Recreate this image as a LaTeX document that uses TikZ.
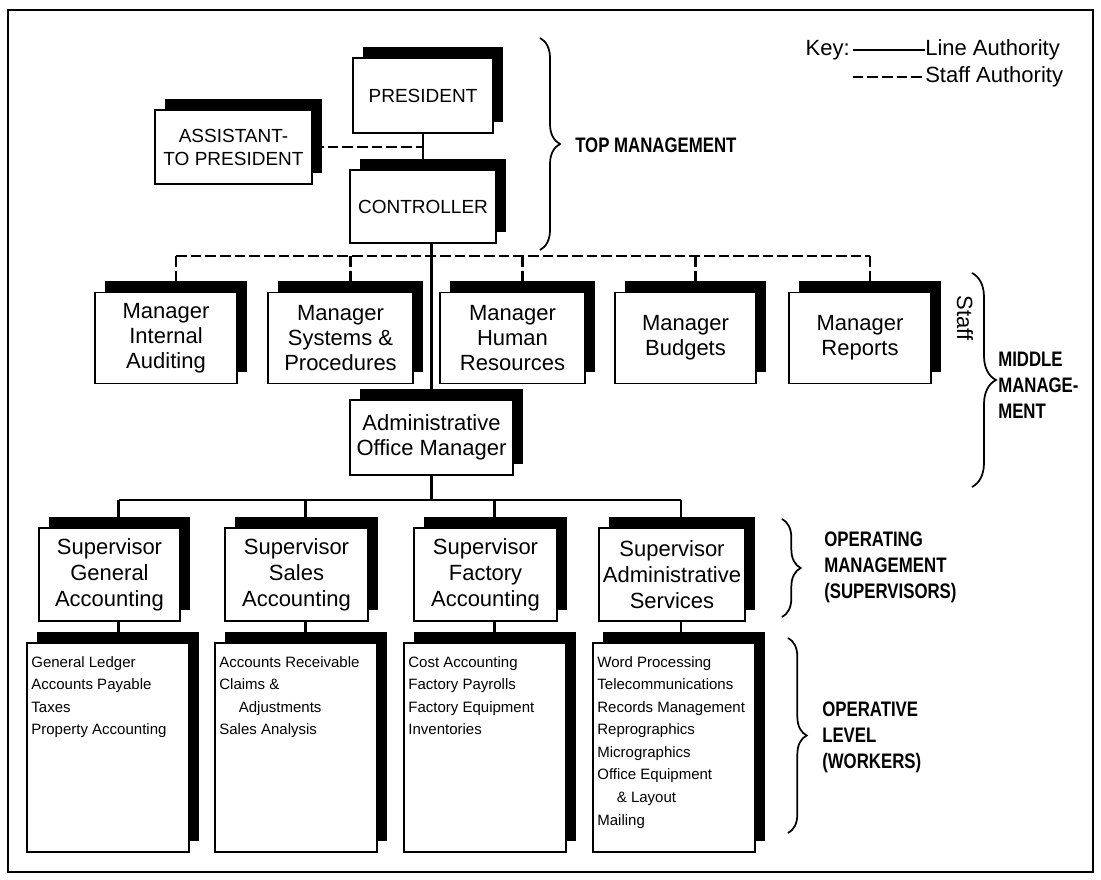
\documentclass[tikz,border=0pt]{standalone}
\usepackage{fontspec}
\setmainfont{Liberation Sans}
\newfontfamily\labelfont{Liberation Sans}[FakeStretch=0.8]
\usetikzlibrary{shadows,decorations.pathreplacing,calc}

\newcommand\cardfont{\fontsize{16.5}{18.75}\selectfont}
\newcommand\supfont{\fontsize{16.5}{19.5}\selectfont}
\newcommand\capsfont{\fontsize{14.25}{17.25}\selectfont}
\newcommand\listfont{\fontsize{11.25}{16.9}\selectfont}
\newcommand\keyfont{\fontsize{16.5}{20}\selectfont}
\newcommand\sidefont{\labelfont\bfseries\fontsize{15.75}{19.5}\selectfont}

\tikzset{
  card/.style={draw=black, line width=1.3pt, fill=white, inner sep=2pt,
    align=center, font=\cardfont,
    general shadow={fill=black, shadow xshift=7.5pt, shadow yshift=8.25pt}},
  mgr/.style={card, minimum height=68.25pt},
  sup/.style={card, font=\supfont, minimum height=69.75pt},
  wrk/.style={card, minimum width=121.5pt, minimum height=156.75pt},
  listtext/.style={inner sep=0pt, align=left, font=\listfont, anchor=north west},
  keytext/.style={inner sep=0pt, font=\keyfont},
  sidelabel/.style={inner sep=0pt, align=left, font=\sidefont, anchor=west},
  line/.style={draw=black, line width=1.6pt},
  staffline/.style={draw=black, line width=1.6pt, dash pattern=on 8pt off 3pt},
  bracestyle/.style={draw=black, line width=1.3pt, decorate},
  frame/.style={draw=black, line width=1.4pt}
}

\begin{document}
\begin{tikzpicture}[x=0.75pt, y=-0.75pt]
\useasboundingbox (0,0) rectangle (1101,880);
\draw[frame] (8,10) rectangle (1093,872);

% key
\node[keytext, anchor=east] (key) at (850,50) {Key:};
\node[keytext, anchor=west] (lineauth) at (925,50) {Line Authority};
\node[keytext, anchor=west] (staffauth) at (925,77) {Staff Authority};
\draw[line] ([xshift=2pt]key.east) -- (lineauth.west);
\draw[staffline] ([xshift=2pt]key.east |- staffauth.west) -- (staffauth.west);

% top management
\node[card, font=\capsfont, minimum width=105pt, minimum height=56.25pt] (pres) at (423,95.5) {PRESIDENT};
\node[card, font=\capsfont, minimum width=117.75pt, minimum height=55.5pt] (asst) at (233.5,147) {ASSISTANT-\\TO PRESIDENT};
\node[card, font=\capsfont, minimum width=109.5pt, minimum height=54.75pt] (ctrl) at (423,206.5) {CONTROLLER};

% staff managers
\node[mgr, minimum width=106.5pt] (ia) at (166,338) {Manager\\Internal\\Auditing};
\node[mgr, minimum width=108.75pt] (sp) at (340.5,338) {Manager\\Systems \&\\Procedures};
\node[mgr, minimum width=108.75pt] (hr) at (512.5,338) {Manager\\Human\\Resources};
\node[mgr, minimum width=105.75pt] (bu) at (685.5,338) {Manager\\Budgets};
\node[mgr, minimum width=106.5pt] (re) at (860,338) {Manager\\Reports};

% line manager
\node[card, minimum width=122.25pt, minimum height=56.25pt] (admin) at (431.5,437.5) {Administrative\\Office Manager};

% supervisors
\node[sup, minimum width=105.75pt] (sga) at (109.5,574.5) {Supervisor\\General\\Accounting};
\node[sup, minimum width=107.25pt] (ssa) at (296.5,574.5) {Supervisor\\Sales\\Accounting};
\node[sup, minimum width=107.25pt] (sfa) at (485.5,574.5) {Supervisor\\Factory\\Accounting};
\node[sup, minimum width=109.5pt] (sas) at (672,574.5) {Supervisor\\Administrative\\Services};

% workers
\node[wrk] (wga) at (108,747.5) {};
\node[wrk] (wsa) at (296,747.5) {};
\node[wrk] (wfa) at (485,747.5) {};
\node[wrk] (was) at (674,747.5) {};
\node[listtext] (wgat) at ([xshift=3.75pt, yshift=-10.5pt]wga.north west)
  {General Ledger\\Accounts Payable\\Taxes\\Property Accounting};
\node[listtext] (wsat) at ([xshift=3.75pt, yshift=-10.5pt]wsa.north west)
  {Accounts Receivable\\Claims \&\\\hspace*{1.3em}Adjustments\\Sales Analysis};
\node[listtext] (wfat) at ([xshift=3.75pt, yshift=-10.5pt]wfa.north west)
  {Cost Accounting\\Factory Payrolls\\Factory Equipment\\Inventories};
\node[listtext] (wast) at ([xshift=3.75pt, yshift=-10.5pt]was.north west)
  {Word Processing\\Telecommunications\\Records Management\\Reprographics\\Micrographics\\Office Equipment\\\hspace*{1.3em}\& Layout\\Mailing};

% line authority
\draw[line] (pres.south) -- (pres.south |- ctrl.north);
\draw[line] (ctrl.south -| admin.north) -- (admin.north);
\coordinate (sbus) at (0,500);
\draw[line] (admin.south) -- (admin.south |- sbus);
\draw[line] ([xshift=6.75pt]sga.north |- sbus) -- ([xshift=6.75pt]sas.north |- sbus);
\foreach \s/\w in {sga/wga, ssa/wsa, sfa/wfa, sas/was}{
  \draw[line] ([xshift=6.75pt]\s.north |- sbus) -- ([xshift=6.75pt]\s.north);
  \draw[line] ([xshift=6.75pt]\s.south) -- ([xshift=6.75pt]\s.south |- \w.north);
}

% staff authority
\draw[staffline] (asst.east) -- (asst.east -| pres.south);
\coordinate (bus) at (0,256);
\draw[staffline] ([xshift=7.5pt]ia.north |- bus) -- ([xshift=7.5pt]re.north |- bus);
\foreach \m in {ia,sp,hr,bu,re}{
  \draw[staffline] ([xshift=7.5pt]\m.north |- bus) -- ([xshift=7.5pt]\m.north);
}

% levels
\draw[bracestyle, decoration={brace, amplitude=15pt}] (540,38) -- (540,250);
\node[sidelabel] (topm) at (575,145) {TOP MANAGEMENT};
\node[keytext, rotate=-90] (stafflbl) at (965,318) {Staff};
\draw[bracestyle, decoration={brace, amplitude=18pt}] (972,273) -- (972,487);
\node[sidelabel] (midm) at (998,385) {MIDDLE\\MANAGE-\\MENT};
\draw[bracestyle, decoration={brace, amplitude=14pt}] (782,519) -- (782,617);
\node[sidelabel] (opm) at (824,567) {OPERATING\\MANAGEMENT\\(SUPERVISORS)};
\draw[bracestyle, decoration={brace, amplitude=14pt}] (788,638) -- (788,833);
\node[sidelabel] (opl) at (822,737) {OPERATIVE\\LEVEL\\(WORKERS)};
\end{tikzpicture}
\end{document}
